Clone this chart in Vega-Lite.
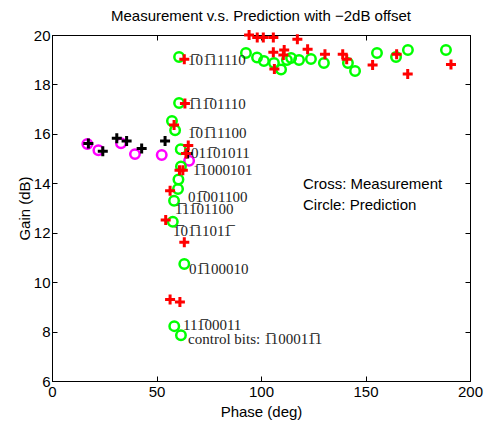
{
  "$schema": "https://vega.github.io/schema/vega-lite/v6.json",
  "width": 418,
  "height": 346,
  "autosize": {"type": "none"},
  "padding": {"left": 52, "top": 35, "right": 14, "bottom": 42},
  "title": {"text": "Measurement v.s. Prediction with \u22122dB offset", "font": "Liberation Sans", "fontSize": 15, "fontWeight": "normal", "color": "black", "offset": 0},
  "config": {
    "view": {"stroke": "black", "strokeWidth": 1},
    "axis": {"grid": false, "labelFont": "Liberation Sans", "labelFontSize": 15, "labelColor": "black", "titleFont": "Liberation Sans", "titleFontSize": 15, "titleFontWeight": "normal", "titleColor": "black", "domainColor": "black", "tickColor": "black", "tickSize": -5, "labelPadding": 7, "labelFlush": false, "labelOverlap": false}
  },
  "datasets": {
    "pts": [
      {"phase": 16.9, "gain": 15.59, "kind": "pm"},
      {"phase": 22.2, "gain": 15.34, "kind": "pm"},
      {"phase": 33.0, "gain": 15.62, "kind": "pm"},
      {"phase": 39.7, "gain": 15.18, "kind": "pm"},
      {"phase": 52.5, "gain": 15.14, "kind": "pm"},
      {"phase": 65.6, "gain": 14.91, "kind": "pm"},
      {"phase": 92.8, "gain": 19.27, "kind": "pg"},
      {"phase": 98.1, "gain": 19.09, "kind": "pg"},
      {"phase": 101.4, "gain": 18.95, "kind": "pg"},
      {"phase": 106.2, "gain": 18.87, "kind": "pg"},
      {"phase": 109.6, "gain": 18.6, "kind": "pg"},
      {"phase": 112.4, "gain": 18.99, "kind": "pg"},
      {"phase": 114.4, "gain": 19.07, "kind": "pg"},
      {"phase": 118.2, "gain": 18.99, "kind": "pg"},
      {"phase": 123.9, "gain": 19.03, "kind": "pg"},
      {"phase": 130.1, "gain": 18.87, "kind": "pg"},
      {"phase": 141.6, "gain": 18.87, "kind": "pg"},
      {"phase": 145.0, "gain": 18.54, "kind": "pg"},
      {"phase": 155.5, "gain": 19.27, "kind": "pg"},
      {"phase": 164.6, "gain": 19.11, "kind": "pg"},
      {"phase": 170.3, "gain": 19.39, "kind": "pg"},
      {"phase": 188.5, "gain": 19.39, "kind": "pg"},
      {"phase": 60.8, "gain": 19.11, "kind": "pg"},
      {"phase": 60.8, "gain": 17.25, "kind": "pg"},
      {"phase": 57.4, "gain": 16.52, "kind": "pg"},
      {"phase": 58.9, "gain": 16.15, "kind": "pg"},
      {"phase": 61.6, "gain": 15.38, "kind": "pg"},
      {"phase": 61.7, "gain": 14.68, "kind": "pg"},
      {"phase": 60.5, "gain": 14.15, "kind": "pg"},
      {"phase": 60.3, "gain": 13.77, "kind": "pg"},
      {"phase": 58.4, "gain": 13.29, "kind": "pg"},
      {"phase": 57.8, "gain": 12.44, "kind": "pg"},
      {"phase": 63.3, "gain": 10.73, "kind": "pg"},
      {"phase": 58.5, "gain": 8.22, "kind": "pg"},
      {"phase": 61.7, "gain": 7.85, "kind": "pg"},
      {"phase": 17.4, "gain": 15.61, "kind": "mb"},
      {"phase": 24.3, "gain": 15.3, "kind": "mb"},
      {"phase": 31.0, "gain": 15.82, "kind": "mb"},
      {"phase": 35.7, "gain": 15.71, "kind": "mb"},
      {"phase": 42.9, "gain": 15.41, "kind": "mb"},
      {"phase": 54.1, "gain": 15.71, "kind": "mb"},
      {"phase": 64.9, "gain": 15.21, "kind": "mb"},
      {"phase": 94.3, "gain": 20.0, "kind": "mr"},
      {"phase": 98.2, "gain": 19.9, "kind": "mr"},
      {"phase": 101.1, "gain": 19.9, "kind": "mr"},
      {"phase": 105.9, "gain": 19.9, "kind": "mr"},
      {"phase": 117.4, "gain": 19.83, "kind": "mr"},
      {"phase": 105.9, "gain": 19.3, "kind": "mr"},
      {"phase": 111.1, "gain": 19.39, "kind": "mr"},
      {"phase": 110.7, "gain": 19.19, "kind": "mr"},
      {"phase": 122.3, "gain": 19.42, "kind": "mr"},
      {"phase": 130.6, "gain": 19.22, "kind": "mr"},
      {"phase": 139.1, "gain": 19.22, "kind": "mr"},
      {"phase": 141.0, "gain": 19.02, "kind": "mr"},
      {"phase": 106.4, "gain": 18.62, "kind": "mr"},
      {"phase": 153.4, "gain": 18.79, "kind": "mr"},
      {"phase": 164.9, "gain": 19.22, "kind": "mr"},
      {"phase": 170.2, "gain": 18.42, "kind": "mr"},
      {"phase": 190.9, "gain": 18.81, "kind": "mr"},
      {"phase": 63.3, "gain": 19.02, "kind": "mr"},
      {"phase": 63.6, "gain": 17.23, "kind": "mr"},
      {"phase": 58.4, "gain": 16.36, "kind": "mr"},
      {"phase": 65.2, "gain": 15.53, "kind": "mr"},
      {"phase": 64.1, "gain": 15.21, "kind": "mr"},
      {"phase": 61.0, "gain": 14.53, "kind": "mr"},
      {"phase": 62.6, "gain": 14.53, "kind": "mr"},
      {"phase": 56.5, "gain": 13.7, "kind": "mr"},
      {"phase": 54.4, "gain": 12.51, "kind": "mr"},
      {"phase": 63.3, "gain": 11.61, "kind": "mr"},
      {"phase": 56.5, "gain": 9.3, "kind": "mr"},
      {"phase": 61.2, "gain": 9.2, "kind": "mr"}
    ],
    "labels": [
      {"phase": 65.1, "gain": 18.99, "text": "1\u030501\u030511110"},
      {"phase": 65.1, "gain": 17.21, "text": "1\u030511\u030501110"},
      {"phase": 65.1, "gain": 16.03, "text": "1\u030501\u030511100"},
      {"phase": 66.5, "gain": 15.22, "text": "011\u030501011"},
      {"phase": 67.5, "gain": 14.53, "text": "1\u03051000101"},
      {"phase": 65.1, "gain": 13.44, "text": "01\u0305001100"},
      {"phase": 58.9, "gain": 12.96, "text": "1\u030511\u030501100"},
      {"phase": 57.9, "gain": 12.06, "text": "1\u030501\u030511011\u0305"},
      {"phase": 65.6, "gain": 10.53, "text": "01\u0305100010"},
      {"phase": 62.7, "gain": 8.25, "text": "111\u030500011"},
      {"phase": 65.1, "gain": 7.7, "text": "control bits: 1\u0305100011\u03051"}
    ],
    "legendtext": [
      {"phase": 120.1, "gain": 13.97, "text": "Cross: Measurement"},
      {"phase": 120.1, "gain": 13.12, "text": "Circle: Prediction"}
    ]
  },
  "resolve": {"axis": {"x": "independent", "y": "independent"}},
  "layer": [
    {
      "data": {"name": "pts"},
      "transform": [{"filter": "datum.kind == 'pm'"}],
      "mark": {"type": "point", "shape": "circle", "filled": false, "stroke": "#FF00FF", "strokeWidth": 2.5, "size": 90, "opacity": 1},
      "encoding": {
        "x": {"field": "phase", "type": "quantitative", "scale": {"domain": [0, 200], "nice": false}, "axis": {"title": "Phase (deg)", "values": [0, 50, 100, 150, 200], "labelPadding": 8, "titlePadding": 5}},
        "y": {"field": "gain", "type": "quantitative", "scale": {"domain": [6, 20], "nice": false, "zero": false}, "axis": {"title": "Gain (dB)", "values": [6, 8, 10, 12, 14, 16, 18, 20], "titlePadding": 1}}
      }
    },
    {
      "data": {"name": "pts"},
      "transform": [{"filter": "datum.kind == 'pg'"}],
      "mark": {"type": "point", "shape": "circle", "filled": false, "stroke": "#00FF00", "strokeWidth": 2.5, "size": 90, "opacity": 1},
      "encoding": {
        "x": {"field": "phase", "type": "quantitative", "scale": {"domain": [0, 200], "nice": false}, "axis": {"orient": "top", "title": null, "labels": false, "values": [0, 50, 100, 150, 200]}},
        "y": {"field": "gain", "type": "quantitative", "scale": {"domain": [6, 20], "nice": false, "zero": false}, "axis": {"orient": "right", "title": null, "labels": false, "values": [6, 8, 10, 12, 14, 16, 18, 20]}}
      }
    },
    {
      "data": {"name": "pts"},
      "transform": [{"filter": "datum.kind == 'mb'"}],
      "mark": {"type": "point", "shape": "M-1,0H1M0,-1V1", "filled": false, "stroke": "black", "strokeWidth": 3, "size": 100, "opacity": 1},
      "encoding": {
        "x": {"field": "phase", "type": "quantitative", "axis": null},
        "y": {"field": "gain", "type": "quantitative", "axis": null}
      }
    },
    {
      "data": {"name": "pts"},
      "transform": [{"filter": "datum.kind == 'mr'"}],
      "mark": {"type": "point", "shape": "M-1,0H1M0,-1V1", "filled": false, "stroke": "#FF0000", "strokeWidth": 3, "size": 100, "opacity": 1},
      "encoding": {
        "x": {"field": "phase", "type": "quantitative", "axis": null},
        "y": {"field": "gain", "type": "quantitative", "axis": null}
      }
    },
    {
      "data": {"name": "labels"},
      "mark": {"type": "text", "align": "left", "baseline": "middle", "font": "Liberation Serif", "fontSize": 15, "color": "#222222"},
      "encoding": {
        "x": {"field": "phase", "type": "quantitative", "axis": null},
        "y": {"field": "gain", "type": "quantitative", "axis": null},
        "text": {"field": "text"}
      }
    },
    {
      "data": {"name": "legendtext"},
      "mark": {"type": "text", "align": "left", "baseline": "middle", "font": "Liberation Sans", "fontSize": 15, "color": "black"},
      "encoding": {
        "x": {"field": "phase", "type": "quantitative", "axis": null},
        "y": {"field": "gain", "type": "quantitative", "axis": null},
        "text": {"field": "text"}
      }
    }
  ]
}
